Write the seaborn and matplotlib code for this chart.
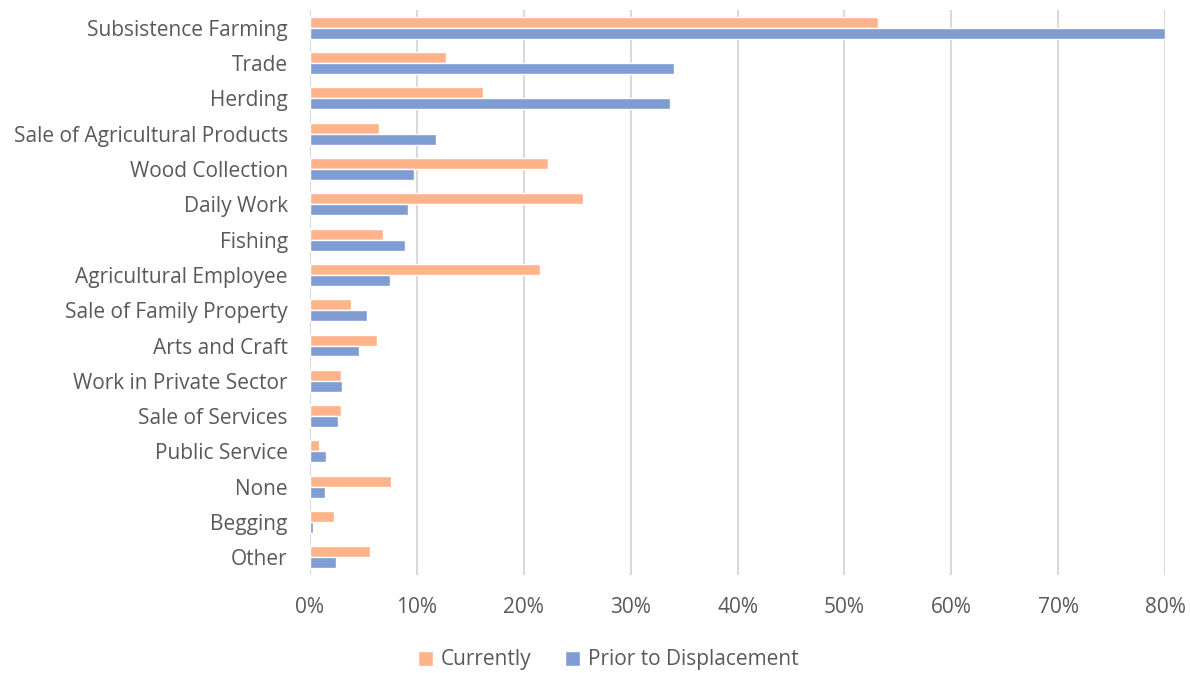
import matplotlib
matplotlib.use("Agg")
import matplotlib.pyplot as plt
import pandas as pd
import seaborn as sns
from matplotlib.ticker import PercentFormatter

categories = ["Subsistence Farming", "Trade", "Herding", "Sale of Agricultural Products",
              "Wood Collection", "Daily Work", "Fishing", "Agricultural Employee",
              "Sale of Family Property", "Arts and Craft", "Work in Private Sector",
              "Sale of Services", "Public Service", "None", "Begging", "Other"]
currently = [53.1, 12.7, 16.2, 6.5, 22.3, 25.5, 6.8, 21.5, 3.8, 6.3, 2.9, 2.9, 0.8, 7.6, 2.2, 5.6]
prior = [80.0, 34.1, 33.7, 11.8, 9.7, 9.2, 8.9, 7.5, 5.3, 4.6, 3.0, 2.6, 1.5, 1.4, 0.3, 2.4]
series_names = ["Currently", "Prior to Displacement"]
colors = ["#FFB38B", "#7F9CD3"]

df = pd.DataFrame({"category": categories * 2,
                   "value": currently + prior,
                   "series": [series_names[0]] * len(categories) + [series_names[1]] * len(categories)})

sns.set_style("white")
plt.rcParams["font.family"] = ["Open Sans", "DejaVu Sans"]
text_color = "#595959"

fig = plt.figure(figsize=(11.9, 6.73), dpi=100)
ax = fig.add_axes([0.2605, 0.1456, 0.979 - 0.2605, 0.985 - 0.1456])

sns.barplot(data=df, x="value", y="category", hue="series", hue_order=series_names,
            palette=colors, width=0.62, ax=ax, saturation=1, zorder=3)

ax.set_xlim(0, 80)
ax.xaxis.set_major_formatter(PercentFormatter(decimals=0))
ax.set_xticks(range(0, 81, 10))
ax.grid(axis="x", color="#D9D9D9", linewidth=1.5, zorder=0)
ax.grid(axis="y", visible=False)
for s in ax.spines.values():
    s.set_visible(False)
ax.tick_params(axis="both", length=0, labelsize=15, colors=text_color)
ax.tick_params(axis="y", pad=16)
ax.tick_params(axis="x", pad=16)
ax.set_xlabel("")
ax.set_ylabel("")

handles, labels = ax.get_legend_handles_labels()
ax.legend(handles, labels, loc="center", bbox_to_anchor=(608 / 1190, 1 - 660 / 673),
          bbox_transform=fig.transFigure, ncol=2, frameon=False, fontsize=15,
          handlelength=0.75, handleheight=0.75, handletextpad=0.35, columnspacing=1.6,
          labelcolor=text_color)

fig.savefig("out.png", dpi=100)
